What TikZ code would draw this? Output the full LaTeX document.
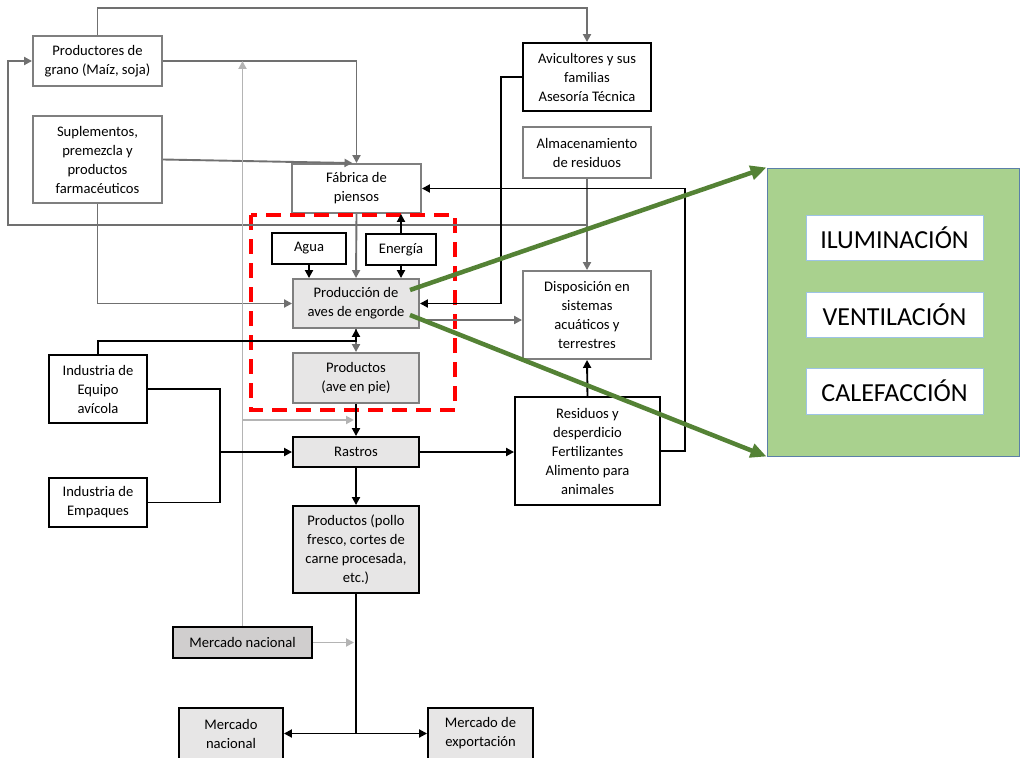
\documentclass[tikz,border=0pt]{standalone}
\usepackage{fontspec}
\setmainfont{Carlito}
\usetikzlibrary{arrows.meta}
\definecolor{boxgray}{HTML}{7F7F7F}
\definecolor{fillgray}{HTML}{E7E6E6}
\definecolor{filldark}{HTML}{D0CECE}
\definecolor{lightline}{HTML}{B4B4B4}
\definecolor{midline}{HTML}{707070}
\definecolor{greenarrow}{HTML}{548235}
\definecolor{panelgreen}{HTML}{A9D18E}
\definecolor{panelborder}{HTML}{5B7FA8}
\definecolor{innerborder}{HTML}{9DC3E6}
\begin{document}
\begin{tikzpicture}[x=1pt,y=-1pt,
  every node/.style={font=\fontsize{14.6}{19}\selectfont, align=center, inner sep=0pt},
  box/.style={draw, line width=1.9pt, rectangle},
  bbox/.style={box, draw=black, fill=white},
  gbox/.style={box, draw=boxgray, fill=white},
  tip/.style={-{Triangle[length=8pt,width=8pt]}},
  bline/.style={draw=black, line width=1.9pt, tip},
  gline/.style={draw=midline, line width=1.9pt, tip},
  lline/.style={draw=lightline, line width=1.9pt, tip},
  garrow/.style={draw=greenarrow, line width=4.5pt, -{Triangle[length=16pt,width=14pt]}},
  sidebox/.style={draw=innerborder, line width=1pt, fill=white, minimum width=177, minimum height=45, font=\fontsize{26}{30}\selectfont}
]
\useasboundingbox (0,0) rectangle (1027,757);

% boxes
\node[gbox, minimum width=129, minimum height=50] (grano) at (97.5,61) {Productores de\\grano (Maíz, soja)};
\node[gbox, minimum width=129, minimum height=87] (supl) at (97.5,159.5) {Suplementos,\\premezcla y\\productos\\farmacéuticos};
\node[gbox, minimum width=129, minimum height=49] (fabrica) at (356.5,188.5) {Fábrica de\\piensos};
\node[bbox, minimum width=128, minimum height=68] (avic) at (587,77) {Avicultores y sus\\familias\\Asesoría Técnica};
\node[gbox, minimum width=128, minimum height=51] (almac) at (587,152.5) {Almacenamiento\\de residuos};
\node[bbox, minimum width=74, minimum height=31] (agua) at (309,248.5) {Agua};
\node[bbox, minimum width=70, minimum height=31] (energia) at (401,249.5) {Energía};
\node[gbox, fill=fillgray, minimum width=126, minimum height=49] (prod) at (356,303.5) {Producción de\\aves de engorde};
\node[gbox, fill=fillgray, minimum width=126, minimum height=50] (ave) at (356,378) {Productos\\(ave en pie)};
\node[gbox, minimum width=128, minimum height=88] (dispos) at (587,315) {Disposición en\\sistemas\\acuáticos y\\terrestres};
\node[bbox, minimum width=145, minimum height=108] (resid) at (587.5,451) {Residuos y\\desperdicio\\Fertilizantes\\Alimento para\\animales};
\node[bbox, minimum width=98, minimum height=68] (equipo) at (98,389) {Industria de\\Equipo\\avícola};
\node[bbox, minimum width=98, minimum height=49] (empaques) at (98,502.5) {Industria de\\Empaques};
\node[bbox, fill=fillgray, minimum width=126, minimum height=30] (rastros) at (356,452) {Rastros};
\node[bbox, fill=fillgray, minimum width=126, minimum height=87] (pollo) at (356,549.5) {Productos (pollo\\fresco, cortes de\\carne procesada,\\etc.)};
\node[bbox, fill=filldark, minimum width=139, minimum height=31] (mnac1) at (242.5,642.5) {Mercado nacional};
\node[bbox, fill=fillgray, minimum width=104, minimum height=51] (mnac2) at (231,733.5) {Mercado\\nacional};
\node[bbox, fill=fillgray, minimum width=105, minimum height=51] (export) at (480.5,733.5) {Mercado de\\exportación};

% dashed frame round the production stage
\draw[red, line width=3.5pt, dash pattern=on 15pt off 9pt] (251,215) rectangle (455,410);

% side panel
\node[draw=panelborder, line width=1pt, fill=panelgreen, minimum width=252, minimum height=288] (panel) at (893,312) {};
\node[sidebox] (ilum) at (894.5,237.5) {ILUMINACIÓN};
\node[sidebox] (vent) at (894.5,314.5) {VENTILACIÓN};
\node[sidebox, minimum height=46] (calef) at (894.5,391) {CALEFACCIÓN};

% helper points
\coordinate (topy) at (0,8);
\coordinate (loopR) at (587,225);
\coordinate (loopL) at (8,225);
\coordinate (lgA) at (242.5,420);
\coordinate (lgB) at (354,420);
\coordinate (lgC) at (354,642.5);
\coordinate (pe2) at (419,320);
\coordinate (junc) at (220,452);
\coordinate (split) at (356,733.5);
\coordinate (g1) at (410,290);
\coordinate (g2) at (410,315);

% gray connectors
\draw[gline] (grano.north) -- (grano.north |- topy) -| (avic.north);
\draw[gline] (grano.east) -| (fabrica.north);
\draw[gline] (supl.east) -- ([xshift=-4pt]fabrica.north);
\draw[gline] (loopR) -- (loopL) |- (grano.west);
\draw[gline] (almac.south) -- (dispos.north);
\draw[gline] (supl.south) |- (prod.west);
\draw[gline] (fabrica.south) -- (prod.north);
\draw[gline] (prod.south) -- (ave.north);
\draw[gline] (pe2) -- (pe2 -| dispos.west);

% light gray connectors
\draw[lline] (mnac1.north) -- (mnac1.north |- grano.east);
\draw[lline] (lgA) -- (lgB);
\draw[lline] (mnac1.east) -- (lgC);

% black connectors
\draw[bline] (energia.north) -- (energia.north |- fabrica.south);
\draw[bline] (agua.south) -- (agua.south |- prod.north);
\draw[bline] (energia.south) -- (energia.south |- prod.north);
\draw[bline] (equipo.north) -- (equipo.north |- 0,341) -| (prod.south);
\draw[bline] (avic.west) -- ++(-21,0) |- (prod.east);
\draw[bline] (resid.north) -- (dispos.south);
\draw[bline] (resid.east) -- (685,451) |- (fabrica.east);
\draw[bline] (rastros.east) -- (rastros.east -| resid.west);
\draw[bline] (ave.south) -- (rastros.north);
\draw[bline, -] (equipo.east) -| (junc);
\draw[bline, -] (empaques.east) -| (junc);
\draw[bline] (junc) -- (rastros.west);
\draw[bline] (rastros.south) -- (pollo.north);
\draw[bline, -] (pollo.south) -- (split);
\draw[bline] (split) -- (mnac2.east);
\draw[bline] (split) -- (export.west);

% green links to the side panel
\draw[garrow] (g1) -- (panel.north west);
\draw[garrow] (g2) -- (panel.south west);
\end{tikzpicture}
\end{document}
